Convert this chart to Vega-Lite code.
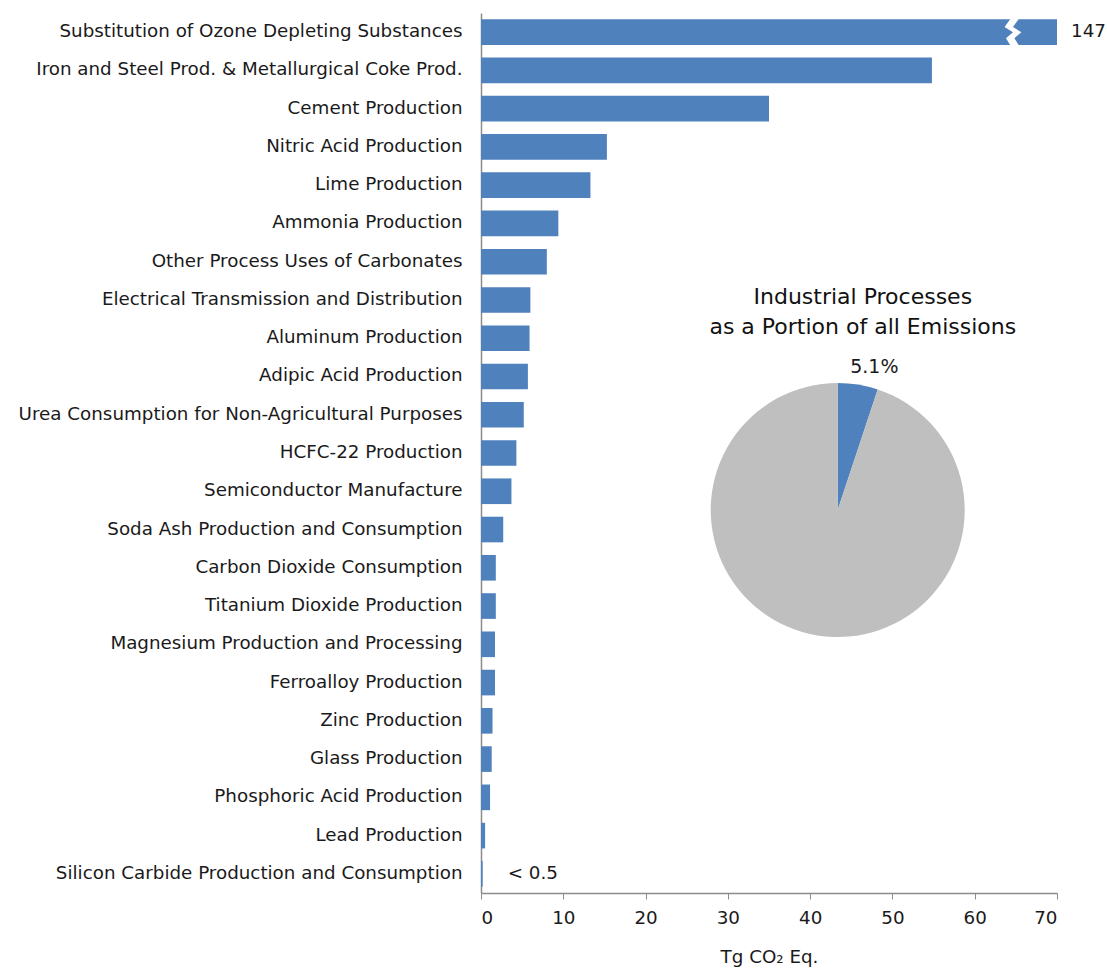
{
  "$schema": "https://vega.github.io/schema/vega-lite/v6.json",
  "width": 576,
  "height": 880,
  "autosize": {"type": "none"},
  "padding": {"left": 481, "top": 13, "right": 50, "bottom": 77},
  "background": "white",
  "config": {"view": {"stroke": null}, "font": "DejaVu Sans"},
  "data": {"values": [
    {"category": "Substitution of Ozone Depleting Substances", "value": 147, "label": "147"},
    {"category": "Iron and Steel Prod. & Metallurgical Coke Prod.", "value": 54.8, "label": ""},
    {"category": "Cement Production", "value": 35.0, "label": ""},
    {"category": "Nitric Acid Production", "value": 15.3, "label": ""},
    {"category": "Lime Production", "value": 13.3, "label": ""},
    {"category": "Ammonia Production", "value": 9.4, "label": ""},
    {"category": "Other Process Uses of Carbonates", "value": 8.0, "label": ""},
    {"category": "Electrical Transmission and Distribution", "value": 6.0, "label": ""},
    {"category": "Aluminum Production", "value": 5.9, "label": ""},
    {"category": "Adipic Acid Production", "value": 5.7, "label": ""},
    {"category": "Urea Consumption for Non-Agricultural Purposes", "value": 5.2, "label": ""},
    {"category": "HCFC-22 Production", "value": 4.3, "label": ""},
    {"category": "Semiconductor Manufacture", "value": 3.7, "label": ""},
    {"category": "Soda Ash Production and Consumption", "value": 2.7, "label": ""},
    {"category": "Carbon Dioxide Consumption", "value": 1.8, "label": ""},
    {"category": "Titanium Dioxide Production", "value": 1.8, "label": ""},
    {"category": "Magnesium Production and Processing", "value": 1.7, "label": ""},
    {"category": "Ferroalloy Production", "value": 1.7, "label": ""},
    {"category": "Zinc Production", "value": 1.4, "label": ""},
    {"category": "Glass Production", "value": 1.3, "label": ""},
    {"category": "Phosphoric Acid Production", "value": 1.1, "label": ""},
    {"category": "Lead Production", "value": 0.5, "label": ""},
    {"category": "Silicon Carbide Production and Consumption", "value": 0.2, "label": "< 0.5"}
  ]},
  "layer": [
    {
      "layer": [
        {
          "mark": {"type": "bar", "color": "#4F81BD"},
          "encoding": {
            "y": {"field": "category", "type": "nominal", "sort": null,
                  "scale": {"paddingInner": 0.33, "paddingOuter": 0.165},
                  "axis": {"title": null, "ticks": false, "labelPadding": 19, "labelFontSize": 18.3, "labelColor": "#1a1a1a", "labelLimit": 0, "domainColor": "#8c8c8c", "domainWidth": 1.5}},
            "x": {"field": "value", "type": "quantitative",
                  "scale": {"domain": [0, 70], "clamp": true, "nice": false},
                  "axis": {"values": [0, 10, 20, 30, 40, 50, 60, 70], "grid": false, "title": "Tg CO₂ Eq.", "titleFontSize": 18.3, "titleFontWeight": "normal", "titleColor": "#1a1a1a", "titlePadding": 22, "labelFontSize": 18.3, "labelColor": "#1a1a1a", "labelPadding": 10, "tickSize": 6, "tickColor": "#8c8c8c", "domainColor": "#8c8c8c", "domainWidth": 1.5}}
          }
        },
        {
          "transform": [{"filter": "datum.label == '147'"}],
          "mark": {"type": "point", "shape": "M -0.15 -1 L -0.6 -0.36 L 0 0 L -0.5 0.43 L -0.15 1 L 0.45 1 L 0.1 0.43 L 0.6 0 L 0 -0.36 L 0.45 -1 Z", "filled": true, "fill": "white", "strokeWidth": 0, "opacity": 1, "size": 784},
          "encoding": {
            "y": {"field": "category", "type": "nominal", "sort": null},
            "x": {"datum": 64.65, "type": "quantitative", "scale": {"domain": [0, 70]}}
          }
        },
        {
          "transform": [{"filter": "datum.label == '147'"}],
          "mark": {"type": "text", "align": "left", "baseline": "middle", "dx": 14, "fontSize": 18.3, "color": "#1a1a1a"},
          "encoding": {
            "y": {"field": "category", "type": "nominal", "sort": null},
            "x": {"field": "value", "type": "quantitative", "scale": {"domain": [0, 70]}},
            "text": {"field": "label"}
          }
        },
        {
          "transform": [{"filter": "datum.label == '< 0.5'"}],
          "mark": {"type": "text", "align": "left", "baseline": "middle", "dx": 25, "fontSize": 18.3, "color": "#1a1a1a"},
          "encoding": {
            "y": {"field": "category", "type": "nominal", "sort": null},
            "x": {"field": "value", "type": "quantitative", "scale": {"domain": [0, 70]}},
            "text": {"field": "label"}
          }
        }
      ]
    },
    {
      "data": {"values": [
        {"part": "Industrial Processes", "share": 5.1},
        {"part": "Other", "share": 94.9}
      ]},
      "mark": {"type": "arc", "outerRadius": 127},
      "encoding": {
        "theta": {"field": "share", "type": "quantitative", "stack": true},
        "color": {"field": "part", "type": "nominal", "scale": {"domain": ["Industrial Processes", "Other"], "range": ["#4F81BD", "#BFBFBF"]}, "legend": null},
        "x": {"datum": 43.35, "type": "quantitative", "scale": {"domain": [0, 70]}},
        "y": {"datum": 12.99, "type": "quantitative", "scale": {"domain": [0, 23], "reverse": true, "nice": false, "zero": false}, "axis": null}
      }
    },
    {
      "data": {"values": [{"t": 1}]},
      "mark": {"type": "text", "text": ["Industrial Processes", "as a Portion of all Emissions"], "align": "center", "baseline": "middle", "fontSize": 22, "lineHeight": 30, "color": "#111111"},
      "encoding": {
        "x": {"datum": 46.4, "type": "quantitative", "scale": {"domain": [0, 70]}},
        "y": {"datum": 7.42, "type": "quantitative", "scale": {"domain": [0, 23], "reverse": true, "nice": false, "zero": false}, "axis": null}
      }
    },
    {
      "data": {"values": [{"t": 1}]},
      "mark": {"type": "text", "text": "5.1%", "align": "center", "baseline": "middle", "fontSize": 19, "color": "#1a1a1a"},
      "encoding": {
        "x": {"datum": 47.8, "type": "quantitative", "scale": {"domain": [0, 70]}},
        "y": {"datum": 9.25, "type": "quantitative", "scale": {"domain": [0, 23], "reverse": true, "nice": false, "zero": false}, "axis": null}
      }
    }
  ],
  "resolve": {"scale": {"y": "independent", "color": "independent"}}
}
